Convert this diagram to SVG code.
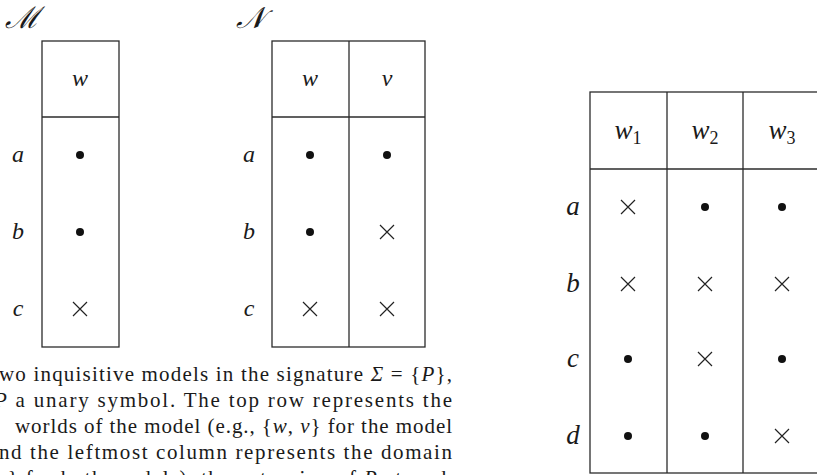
<svg xmlns="http://www.w3.org/2000/svg" width="817" height="475" viewBox="0 0 817 475">
<style>
.grid{fill:none;stroke:#2b2b2b;stroke-width:1.3}
.ln{stroke:#2b2b2b;stroke-width:1.3}
.m{font-family:"Liberation Serif",serif;font-style:italic;font-size:24px;text-anchor:middle;fill:#1a1a1a}
.mr{font-family:"Liberation Serif",serif;font-style:italic;font-size:27px;text-anchor:middle;fill:#1a1a1a}
.sub{font-style:normal;font-size:18px}
.cal{font-family:"DejaVu Serif","Liberation Serif",serif;font-style:italic;font-size:30px;fill:#1a1a1a}
.cap{font-family:"Liberation Serif",serif;font-size:21px;fill:#1a1a1a}
.it{font-style:italic}
.dot{fill:#111}
.x{stroke:#222;stroke-width:1.2;fill:none}
</style>
<defs>
<circle id="dot" class="dot" r="4"/>
<path id="x" class="x" d="M-7,-7L7,7M-7,7L7,-7"/>
</defs>

<g id="modelM">
<text class="cal" x="5" y="28">ℳ</text>
<rect class="grid" x="42" y="41" width="77" height="306"/>
<line class="ln" x1="42" y1="117" x2="119" y2="117"/>
<text class="m" x="80" y="86">w</text>
<text class="m" x="18" y="162">a</text>
<text class="m" x="18" y="239">b</text>
<text class="m" x="18" y="316">c</text>
<use href="#dot" x="80" y="155"/>
<use href="#dot" x="80" y="232"/>
<use href="#x" x="80" y="309"/>
</g>

<g id="modelN">
<text class="cal" x="236" y="28">𝒩</text>
<rect class="grid" x="272" y="41" width="153" height="306"/>
<line class="ln" x1="272" y1="117" x2="425" y2="117"/>
<line class="ln" x1="349" y1="41" x2="349" y2="347"/>
<text class="m" x="310" y="86">w</text>
<text class="m" x="387" y="86">v</text>
<text class="m" x="249" y="162">a</text>
<text class="m" x="249" y="239">b</text>
<text class="m" x="249" y="316">c</text>
<use href="#dot" x="310" y="155"/>
<use href="#dot" x="310" y="232"/>
<use href="#x" x="310" y="309"/>
<use href="#dot" x="387" y="155"/>
<use href="#x" x="387" y="232"/>
<use href="#x" x="387" y="309"/>
</g>

<g id="modelW">
<rect class="grid" x="590" y="92" width="230" height="381"/>
<line class="ln" x1="590" y1="169" x2="820" y2="169"/>
<line class="ln" x1="667" y1="92" x2="667" y2="473"/>
<line class="ln" x1="743" y1="92" x2="743" y2="473"/>
<text class="mr" x="628" y="139">w<tspan class="sub" dy="5">1</tspan></text>
<text class="mr" x="705" y="139">w<tspan class="sub" dy="5">2</tspan></text>
<text class="mr" x="782" y="139">w<tspan class="sub" dy="5">3</tspan></text>
<text class="mr" x="573" y="215">a</text>
<text class="mr" x="573" y="292">b</text>
<text class="mr" x="573" y="367">c</text>
<text class="mr" x="573" y="444">d</text>
<use href="#x" x="628" y="207"/>
<use href="#dot" x="705" y="207"/>
<use href="#dot" x="782" y="207"/>
<use href="#x" x="628" y="284"/>
<use href="#x" x="705" y="284"/>
<use href="#x" x="782" y="284"/>
<use href="#dot" x="628" y="359"/>
<use href="#x" x="705" y="359"/>
<use href="#dot" x="782" y="359"/>
<use href="#dot" x="628" y="436"/>
<use href="#dot" x="705" y="436"/>
<use href="#x" x="782" y="436"/>
</g>

<g id="caption">
<text class="cap" x="-1" y="381" textLength="453" lengthAdjust="spacing">wo inquisitive models in the signature <tspan class="it">Σ</tspan> = {<tspan class="it">P</tspan>},</text>
<text class="cap" x="-6" y="407" textLength="458" lengthAdjust="spacing"><tspan class="it">P</tspan> a unary symbol. The top row represents the</text>
<text class="cap" x="15" y="433" textLength="437" lengthAdjust="spacing">worlds of the model (e.g., {<tspan class="it">w</tspan>, <tspan class="it">v</tspan>} for the model</text>
<text class="cap" x="-1" y="459" textLength="453" lengthAdjust="spacing">nd the leftmost column represents the domain</text>
<text class="cap" x="-3" y="485" textLength="455" lengthAdjust="spacing">c} for both models), the extension of <tspan class="it">P</tspan> at each</text>
</g>
</svg>
